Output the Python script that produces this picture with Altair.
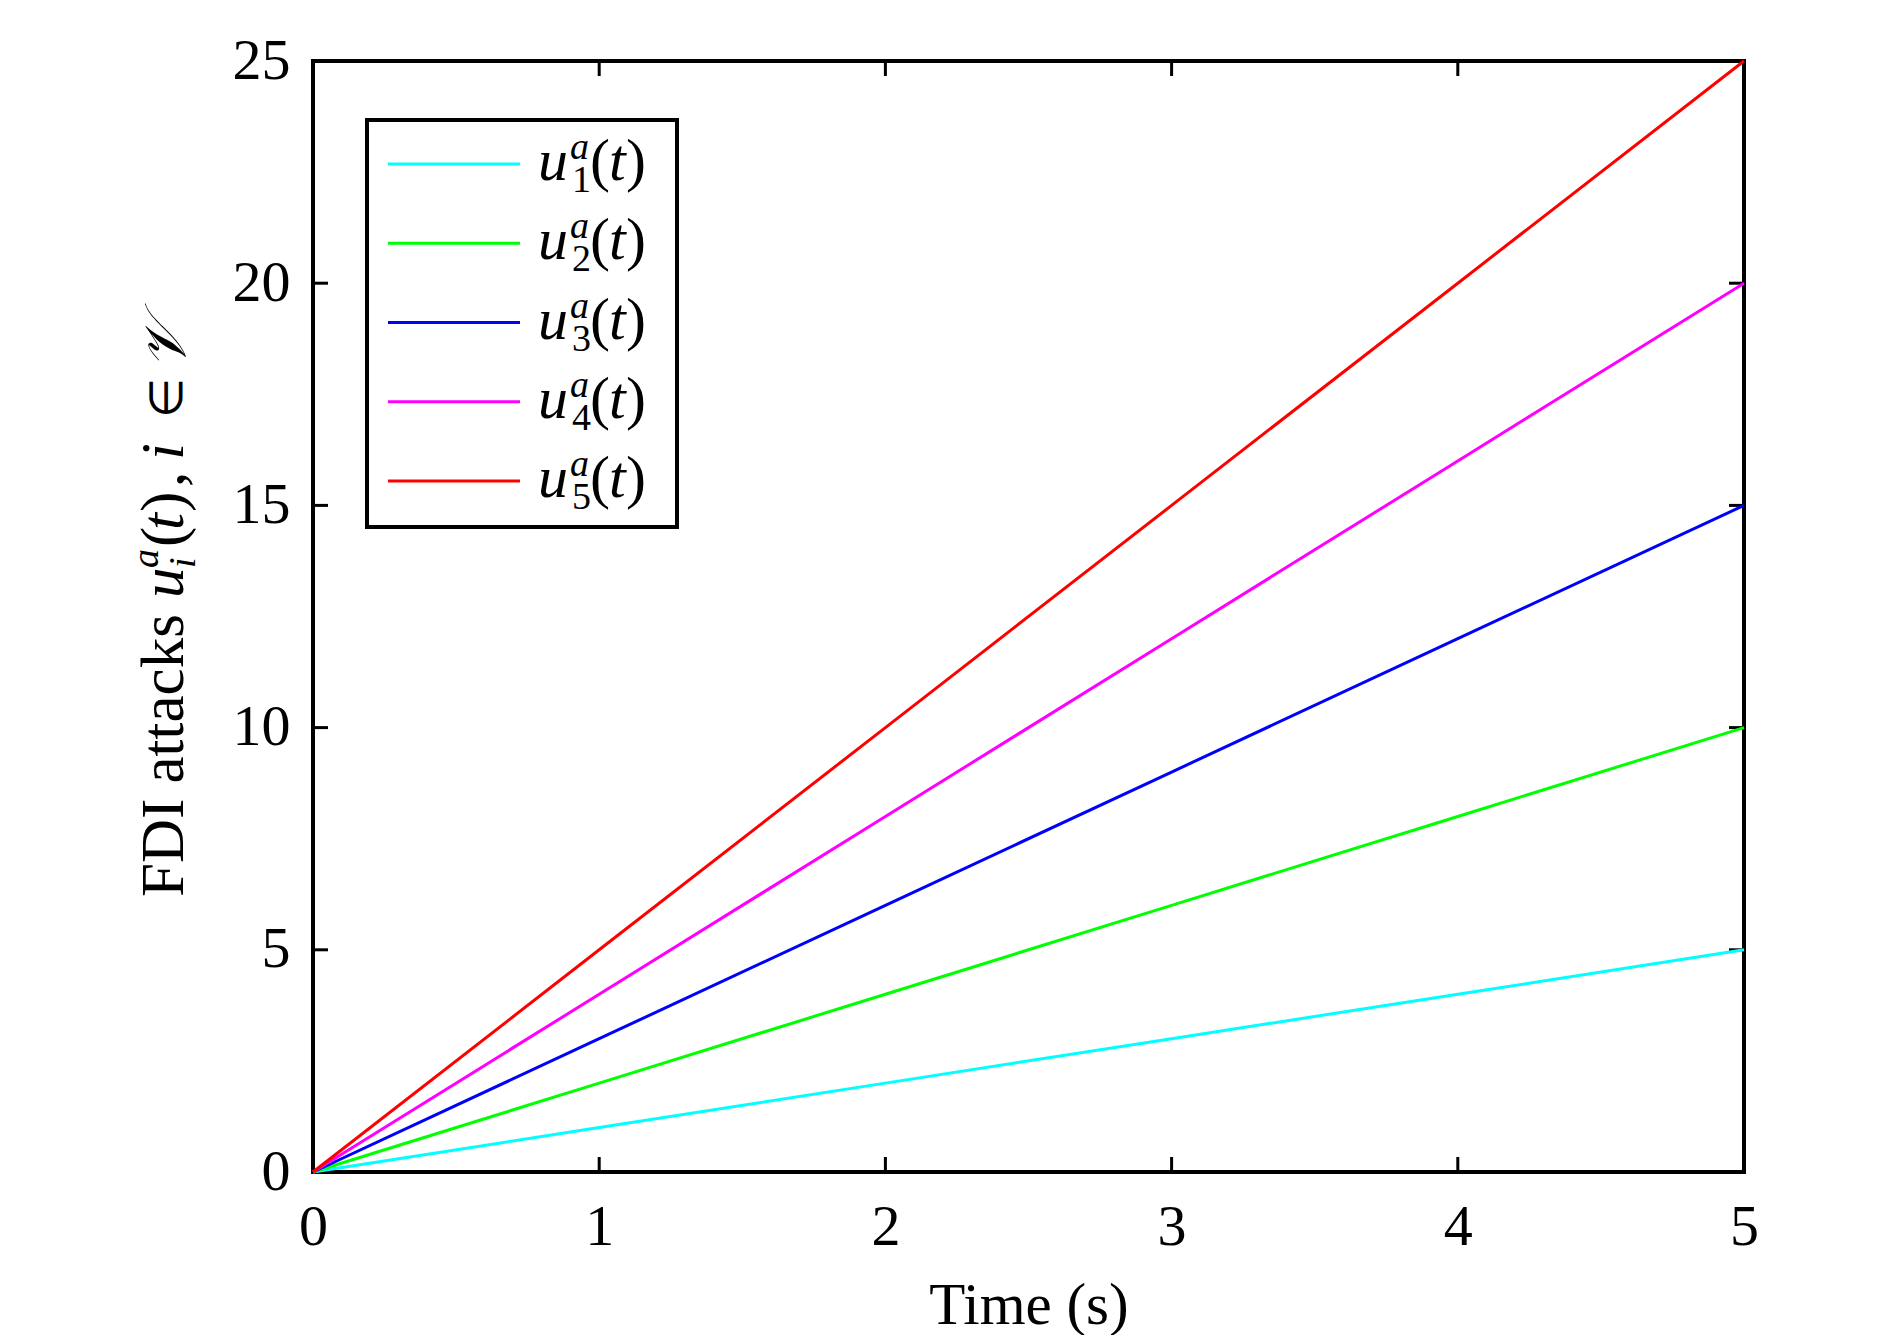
import altair as alt
import pandas as pd

# ---- data ----
time_s = [0, 1, 2, 3, 4, 5]
u1 = [0, 1, 2, 3, 4, 5]
u2 = [0, 2, 4, 6, 8, 10]
u3 = [0, 3, 6, 9, 12, 15]
u4 = [0, 4, 8, 12, 16, 20]
u5 = [0, 5, 10, 15, 20, 25]
series_names = ["u1", "u2", "u3", "u4", "u5"]
series_idx = ["1", "2", "3", "4", "5"]
series_colors = ["#00FFFF", "#00FF00", "#0000FF", "#FF00FF", "#FF0000"]
x_ticks = [0, 1, 2, 3, 4, 5]
y_ticks = [0, 5, 10, 15, 20, 25]
x_title = "Time (s)"

rows = []
for name, vals in zip(series_names, [u1, u2, u3, u4, u5]):
    for t, v in zip(time_s, vals):
        rows.append({"series": name, "t": t, "u": v})
df = pd.DataFrame(rows)
leg_df = pd.DataFrame({"series": series_names, "idx": series_idx})
xt_df = pd.DataFrame({"t": x_ticks})
yt_df = pd.DataFrame({"u": y_ticks})
one_df = pd.DataFrame({"k": [0]})

W, H = 1431, 1111
FONT = "Liberation Serif"
TICK = 15

xscale = alt.Scale(domain=[0, 5], nice=False, zero=False)
yscale = alt.Scale(domain=[0, 25], nice=False)
cscale = alt.Scale(domain=series_names, range=series_colors)

lines = alt.Chart(df).mark_line(strokeWidth=3).encode(
    x=alt.X("t:Q", scale=xscale,
            axis=alt.Axis(values=x_ticks, format="d", ticks=False, tickSize=0, domain=False,
                          grid=False, labelFont=FONT, labelFontSize=58, labelPadding=26,
                          labelColor="black", labelFlush=False,
                          title=x_title, titleFont=FONT, titleFontSize=59,
                          titleFontWeight="normal", titleColor="black",
                          titleBaseline="alphabetic", titleY=151)),
    y=alt.Y("u:Q", scale=yscale,
            axis=alt.Axis(values=y_ticks, format="d", ticks=False, tickSize=0, domain=False,
                          grid=False, labelFont=FONT, labelFontSize=58, labelPadding=23,
                          labelColor="black", labelFlush=False, title=None)),
    color=alt.Color("series:N", scale=cscale, legend=None),
    order=alt.Order("series:N"),
)

xt_bottom = alt.Chart(xt_df).mark_rule(color="black", strokeWidth=3).encode(
    x=alt.X("t:Q", scale=xscale), y=alt.value(H), y2=alt.value(H - TICK))
xt_top = alt.Chart(xt_df).mark_rule(color="black", strokeWidth=3).encode(
    x=alt.X("t:Q", scale=xscale), y=alt.value(0), y2=alt.value(TICK))
yt_left = alt.Chart(yt_df).mark_rule(color="black", strokeWidth=3).encode(
    y=alt.Y("u:Q", scale=yscale), x=alt.value(0), x2=alt.value(TICK))
yt_right = alt.Chart(yt_df).mark_rule(color="black", strokeWidth=3).encode(
    y=alt.Y("u:Q", scale=yscale), x=alt.value(W), x2=alt.value(W - TICK))

# ---- y-axis title built from pieces (rotated), for italics / sub- & superscripts ----
# (text, start position along axis, baseline x, font size, italic)
ytitle_pieces = [
    ("FDI attacks", 836, -130, 61, False),
    ("u", 537, -130, 61, True),
    ("a", 507, -155, 38, True),
    ("i", 507, -118, 38, True),
    ("(", 486, -130, 61, False),
    ("t", 469, -130, 61, True),
    (")", 451, -130, 61, False),
    (",", 426, -130, 61, False),
    ("i", 399, -130, 61, True),
    ("∈", 357, -131, 46, False),
    ("𝒱", 308, -128, 58, True),
]

def ypiece(txt, ypos, xpos, size, italic):
    kw = dict(font=FONT, fontSize=size, align="left", baseline="alphabetic",
              angle=270, color="black")
    if italic:
        kw["fontStyle"] = "italic"
    return alt.Chart(one_df).mark_text(**kw).encode(
        x=alt.value(xpos), y=alt.value(ypos), text=alt.value(txt))

ytitle = [ypiece(*p) for p in ytitle_pieces]

main = alt.layer(xt_bottom, xt_top, yt_left, yt_right, lines, *ytitle)

# ---- manual legend ----
ly = alt.Y("series:N", scale=alt.Scale(type="point", domain=series_names, range=[103, 420],
                                       padding=0), axis=None)

box = alt.Chart(one_df).mark_rect(fill="white", stroke="black", strokeWidth=4).encode(
    x=alt.value(54), x2=alt.value(364), y=alt.value(59), y2=alt.value(466))
leg_lines = alt.Chart(leg_df).mark_rule(strokeWidth=3).encode(
    y=ly, x=alt.value(75), x2=alt.value(207),
    color=alt.Color("series:N", scale=cscale, legend=None))

def piece(txt, xpos, dy, size, italic):
    kw = dict(font=FONT, fontSize=size, align="left", baseline="alphabetic", dy=dy,
              color="black")
    if italic:
        kw["fontStyle"] = "italic"
    enc = dict(y=ly, x=alt.value(xpos))
    if txt is None:
        enc["text"] = alt.Text("idx:N")
    else:
        enc["text"] = alt.value(txt)
    return alt.Chart(leg_df).mark_text(**kw).encode(**enc)

leg_text = [
    piece("u", 225, 16, 60, True),
    piece("a", 257, -5, 38, True),
    piece(None, 259, 28, 38, False),
    piece("(", 277, 16, 60, False),
    piece("t", 296, 16, 60, True),
    piece(")", 313, 16, 60, False),
]

legend = alt.layer(box, leg_lines, *leg_text)

chart = alt.layer(main, legend).resolve_scale(y="independent").properties(
    width=W, height=H,
    autosize=alt.AutoSizeParams(type="none"),
    padding={"left": 305, "top": 53, "right": 120, "bottom": 163},
).configure(background="white").configure_view(stroke="black", strokeWidth=4)

chart.save("out.html", embed_options={"renderer": "svg", "actions": False})
